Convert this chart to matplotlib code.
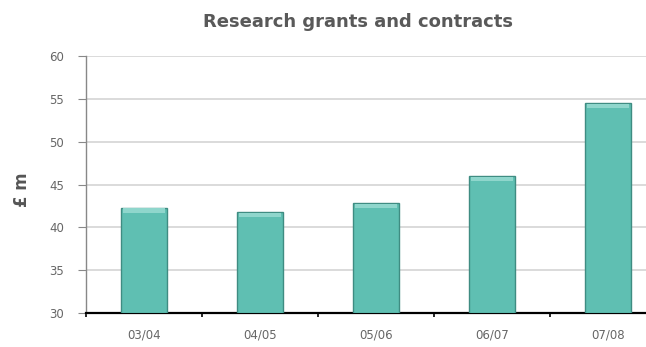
import matplotlib
matplotlib.use("Agg")
import matplotlib.pyplot as plt
import numpy as np

categories = ["03/04", "04/05", "05/06", "06/07", "07/08"]
values = [42.3, 41.8, 42.8, 46.0, 54.5]
yticks = [30, 35, 40, 45, 50, 55, 60]

W, H = 646, 347
fig = plt.figure(figsize=(W / 100, H / 100), dpi=100)
left, right, bottom, top = 86, 666, 313, 56
ax = fig.add_axes([left / W, (H - bottom) / H, (right - left) / W, (bottom - top) / H])

x = np.arange(len(categories))
ax.bar(x, [v - 30 for v in values], bottom=30, width=0.4, color="#5fbfb2",
       edgecolor="#3f8c82", linewidth=1.0, zorder=3)
# light top highlight
ax.bar(x, [0.5] * len(values), bottom=[v - 0.6 for v in values], width=0.36,
       color="#8fd6cc", linewidth=0, zorder=4)

ax.set_xlim(-0.5, len(categories) - 0.5)
ax.set_ylim(30, 60)
ax.set_yticks(yticks)
ax.set_yticklabels([str(t) for t in yticks])
ax.set_xticks(x)
ax.set_xticklabels(categories)
ax.set_xticks(np.arange(len(categories) + 1) - 0.5, minor=True)
ax.tick_params(axis="x", which="major", length=0, pad=11, labelsize=8.5, labelcolor="#666666")
ax.tick_params(axis="x", which="minor", length=3, width=1.2, color="black", direction="out")
ax.tick_params(axis="y", length=6, color="#888888", labelsize=8.5, labelcolor="#666666", pad=10)

ax.yaxis.grid(True, color="#d4d4d4", linewidth=1.2, zorder=0)
ax.set_axisbelow(True)
for s in ["top", "right"]:
    ax.spines[s].set_visible(False)
ax.spines["left"].set_color("#888888")
ax.spines["left"].set_linewidth(1.0)
ax.spines["bottom"].set_color("black")
ax.spines["bottom"].set_linewidth(1.6)

ax.set_ylabel("£ m", fontsize=12, fontweight="bold", color="#555555")
ax.yaxis.set_label_coords((31 - left) / (right - left), 0.48)
fig.text(358 / W, 1 - 22 / H, "Research grants and contracts", ha="center", va="center",
         fontsize=13, fontweight="bold", color="#595959")

fig.savefig("out.png", dpi=100)
